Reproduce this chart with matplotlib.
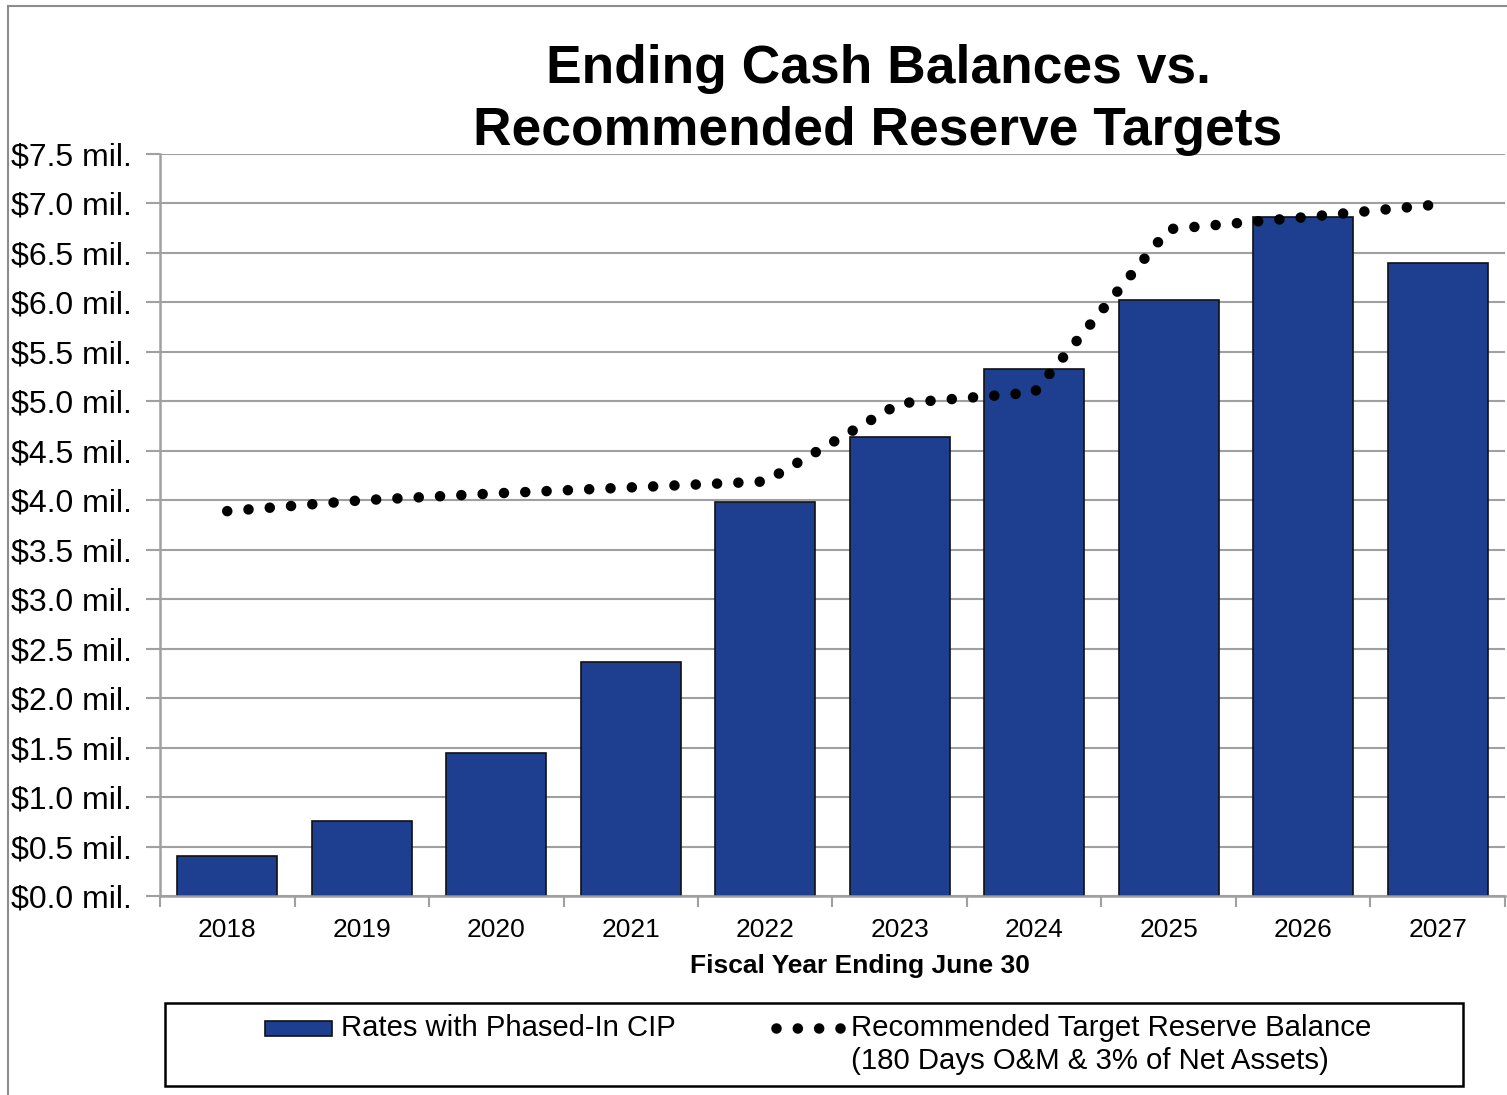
import matplotlib
matplotlib.use("Agg")
import matplotlib.pyplot as plt
from matplotlib.patches import Rectangle
from matplotlib.lines import Line2D

plt.rcParams['font.family'] = ['Liberation Sans', 'DejaVu Sans']

# data ($ millions)
years = ['2018', '2019', '2020', '2021', '2022', '2023', '2024', '2025', '2026', '2027']
cash_balance = [0.40, 0.76, 1.45, 2.37, 3.98, 4.64, 5.33, 6.02, 6.86, 6.40]
reserve_target = [3.89, 4.00, 4.07, 4.13, 4.19, 4.98, 5.09, 6.74, 6.86, 6.99]
yticks = [0.0, 0.5, 1.0, 1.5, 2.0, 2.5, 3.0, 3.5, 4.0, 4.5, 5.0, 5.5, 6.0, 6.5, 7.0, 7.5]

W, H = 1507, 1095
fig = plt.figure(figsize=(W / 100, H / 100), dpi=100)

def fx(px):
    return px / W

def fy(py):
    return 1 - py / H

ax = fig.add_axes([fx(160), fy(896), fx(1505) - fx(160), fy(154) - fy(896)])

bar_color = '#1e3f90'
grid_color = '#a0a0a0'
dot_style = (0, (0.001, 2.02))
x = list(range(len(years)))

ax.bar(x, cash_balance, width=0.74, color=bar_color, edgecolor='#111111',
       linewidth=1.2, zorder=2)
ax.plot(x, reserve_target, color='black', linewidth=7.6,
        linestyle=dot_style, dash_capstyle='round', zorder=3)

ax.set_xlim(-0.5, len(years) - 0.5)
ax.set_ylim(0, 7.5)
ax.set_yticks(yticks)
ax.set_yticklabels([f'${v:.1f} mil.' for v in yticks], fontsize=23)
ax.yaxis.grid(True, color=grid_color, linewidth=1.5, zorder=0)
ax.set_axisbelow(True)

# x ticks sit between categories, labels at category centres
ax.set_xticks([i - 0.5 for i in range(len(years) + 1)])
ax.set_xticklabels([])
ax.set_xticks(x, minor=True)
ax.set_xticklabels(years, minor=True, fontsize=19)
ax.tick_params(axis='x', which='major', length=8, width=1.5, color=grid_color)
ax.tick_params(axis='x', which='minor', length=0, pad=16)
ax.tick_params(axis='y', length=10, width=1.5, color=grid_color, pad=10)

for side in ['top', 'right']:
    ax.spines[side].set_visible(False)
for side in ['left', 'bottom']:
    ax.spines[side].set_color(grid_color)
    ax.spines[side].set_linewidth(1.8)

# titles
fig.text(fx(878), fy(100), 'Ending Cash Balances vs.\nRecommended Reserve Targets',
         ha='center', va='center', fontsize=38.4, fontweight='bold', linespacing=1.31)
fig.text(fx(860), fy(966), 'Fiscal Year Ending June 30', ha='center', va='center',
         fontsize=19, fontweight='bold')

# chart area border (partly cut off in the original)
fig.add_artist(Line2D([fx(8), fx(8)], [fy(6), fy(1095)], color='#8c8c8c', linewidth=1.5))
fig.add_artist(Line2D([fx(8), fx(1507)], [fy(6), fy(6)], color='#8c8c8c', linewidth=1.5))

# legend box
fig.add_artist(Rectangle((fx(165), fy(1086)), fx(1463) - fx(165), fy(1003) - fy(1086),
                         transform=fig.transFigure, facecolor='white',
                         edgecolor='black', linewidth=1.8))
fig.add_artist(Rectangle((fx(265), fy(1036)), fx(332) - fx(265), fy(1021) - fy(1036),
                         transform=fig.transFigure, facecolor=bar_color,
                         edgecolor='#111111', linewidth=1.2))
fig.text(fx(341), fy(1028), 'Rates with Phased-In CIP', ha='left', va='center', fontsize=21.1)
fig.add_artist(Line2D([fx(776), fx(842)], [fy(1028), fy(1028)], color='black',
                      linewidth=7.6, linestyle=dot_style, dash_capstyle='round'))
fig.text(fx(851), fy(1028), 'Recommended Target Reserve Balance', ha='left', va='center',
         fontsize=21.2)
fig.text(fx(851), fy(1061), '(180 Days O&M & 3% of Net Assets)', ha='left', va='center',
         fontsize=21.2)

fig.savefig('out.png', dpi=100)
